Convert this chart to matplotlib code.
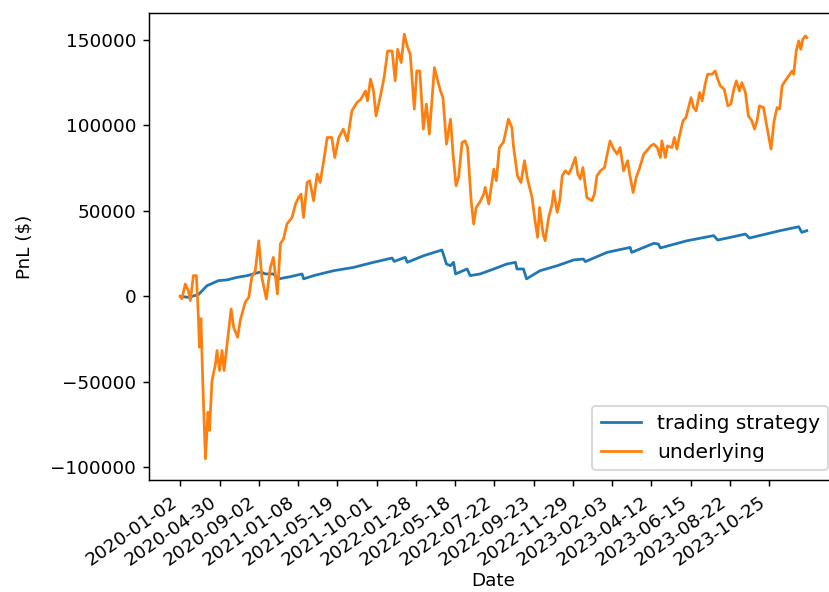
import matplotlib
matplotlib.use("Agg")
import matplotlib.pyplot as plt

# row index of the trading day, pnl in $
underlying_idx = [0, 3, 10, 16, 20, 26, 32, 36, 38, 41, 45, 50, 55, 58, 63, 70, 73, 78, 83, 87,
                  93, 101, 106, 114, 119, 129, 136, 142, 149, 156, 162, 171, 179, 185, 193, 199, 205, 212, 222, 229,
                  235, 240, 245, 252, 257, 265, 272, 278, 285, 292, 301, 307, 315, 324, 332, 341, 351, 359, 368, 372,
                  378, 384, 389, 397, 405, 412, 421, 427, 432, 439, 445, 452, 457, 465, 470, 476, 483, 489, 495, 505,
                  510, 517, 522, 529, 537, 542, 548, 553, 560, 566, 571, 578, 583, 588, 595, 603, 606, 613, 623, 628,
                  634, 642, 648, 652, 659, 662, 670, 677, 684, 690, 699, 705, 710, 714, 721, 725, 732, 739, 742, 749,
                  754, 759, 765, 772, 778, 785, 790, 795, 800, 808, 818, 823, 828, 835, 843, 847, 854, 861, 868, 874,
                  881, 889, 893, 900, 906, 913, 921, 927, 935, 941, 948, 954, 957, 964, 968, 977, 982, 987, 992, 999,
                  1005, 1010, 1015, 1020, 1025, 1032, 1037, 1043, 1048, 1057, 1063, 1068, 1073, 1081, 1088, 1094, 1100, 1105, 1111, 1116,
                  1123, 1129, 1136, 1141, 1146, 1151, 1159, 1166, 1174, 1180, 1186, 1191, 1196, 1202, 1209, 1216, 1219, 1224, 1229, 1233,
                  1237, 1242, 1245]
underlying_pnl = [0, -1500, 7200, 3300, -2500, 12100, 12100, -12300, -29800, -13000, -53200, -95000, -67800, -78400, -49200, -39500, -31700, -43400, -31700, -43400,
                  -27800, -7400, -18100, -23900, -14200, -3500, -600, 11100, 15000, 32500, 11100, -1500, 16900, 22800, 1400, 30800, 33500, 42300, 46100, 54000,
                  57800, 59800, 46100, 66600, 67600, 55900, 71500, 66600, 79300, 92900, 92900, 81200, 92900, 97800, 90900, 108500, 113300, 115300, 120100, 114300,
                  127000, 120100, 105500, 116200, 127900, 143500, 143500, 126000, 144500, 136700, 153300, 145400, 141600, 109500, 131800, 131800, 97800, 112400, 94900, 133800,
                  127900, 120100, 116200, 89000, 103600, 83200, 64700, 69500, 90000, 90900, 87000, 55900, 42300, 52000, 54900, 59800, 63700, 54000, 74400, 67600,
                  87000, 90000, 97800, 103600, 98700, 88000, 70500, 66600, 79300, 68600, 57800, 44200, 34500, 52000, 36400, 32500, 46100, 54000, 61700, 49100,
                  55900, 70500, 73400, 71500, 75300, 81200, 71500, 68600, 75300, 57800, 55900, 59800, 70500, 73400, 75300, 81200, 90900, 86100, 83200, 87000,
                  73400, 79300, 71500, 60700, 69500, 75300, 83200, 85100, 88000, 89000, 87000, 81200, 90900, 81200, 88000, 87000, 92900, 86100, 93900, 102600,
                  104600, 110400, 116200, 110400, 108500, 119200, 114300, 124100, 129900, 129900, 131800, 127000, 123100, 121100, 111400, 112400, 121100, 126000, 120100, 125000,
                  119200, 105500, 102600, 97800, 102600, 111400, 110400, 98700, 86100, 102600, 110400, 109500, 123100, 126000, 128900, 131800, 129900, 143500, 149400, 144500,
                  150300, 152300, 151300]

strategy_idx = [0, 16, 36, 53, 76, 93, 113, 133, 156, 162, 169, 185, 195, 219, 242, 245, 265, 305, 344, 384,
                421, 425, 447, 451, 484, 520, 529, 537, 543, 547, 570, 576, 596, 623, 649, 666, 669, 682, 688, 715,
                749, 782, 801, 805, 848, 894, 897, 941, 950, 954, 1007, 1060, 1068, 1123, 1131, 1192, 1229, 1235, 1245]
strategy_pnl = [0, -600, 1000, 6200, 9200, 9600, 11100, 12100, 14000, 14000, 13100, 13100, 10200, 11500, 13100, 10200, 12100, 15000, 16900, 19900,
                22400, 20400, 22800, 19900, 23800, 27100, 18900, 17900, 19900, 13100, 16000, 12100, 13100, 16000, 18900, 19900, 16000, 16000, 10200, 15000,
                17900, 21300, 21800, 20300, 25700, 28600, 25700, 31000, 30600, 28300, 32500, 35500, 32900, 36400, 34100, 38400, 40700, 37400, 38400]

tick_step = 78
tick_labels = ["2020-01-02", "2020-04-30", "2020-09-02", "2021-01-08", "2021-05-19", "2021-10-01",
               "2022-01-28", "2022-05-18", "2022-07-22", "2022-09-23", "2022-11-29", "2023-02-03",
               "2023-04-12", "2023-06-15", "2023-08-22", "2023-10-25"]

fig = plt.figure(figsize=(829 / 132, 592 / 132), dpi=132)
ax = fig.add_axes([0.1797, 0.1892, 0.8313, 0.7889])

ax.plot(strategy_idx, strategy_pnl, label="trading strategy")
ax.plot(underlying_idx, underlying_pnl, label="underlying")

ax.set_xticks([i * tick_step for i in range(len(tick_labels))])
ax.set_xticklabels(tick_labels, rotation=35, ha="right")
ax.set_xlabel("Date", labelpad=1.5)
ax.set_ylabel("PnL ($)", labelpad=9)
ax.legend(loc="lower right", fontsize=11)

fig.savefig("out.png", dpi=132)
